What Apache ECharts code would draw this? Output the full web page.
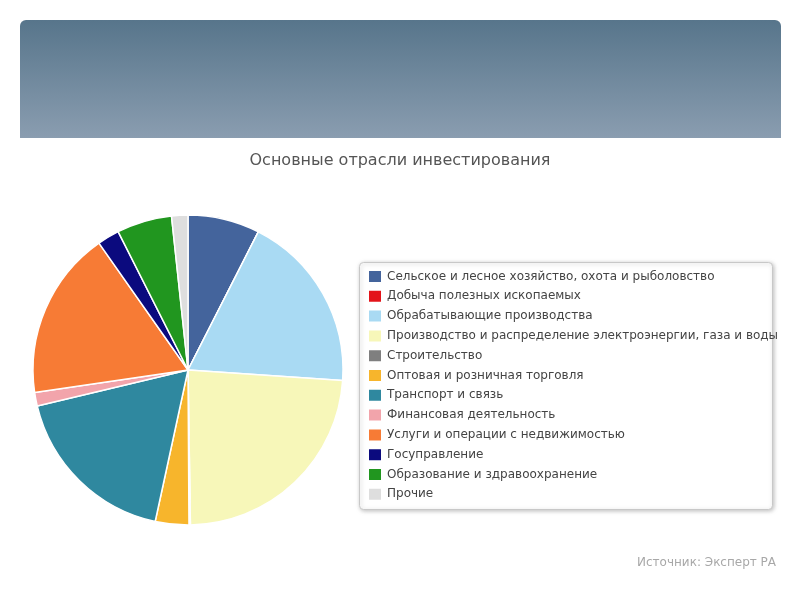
<!DOCTYPE html>
<html><head><meta charset="utf-8">
<script src="https://cdn.jsdelivr.net/npm/echarts@6/dist/echarts.min.js"></script>
<style>html,body{margin:0;padding:0;background:#fff}#c{width:800px;height:600px}</style>
</head><body><div id="c"></div>
<script>
const categories = [
  "Сельское и лесное хозяйство, охота и рыболовство",
  "Добыча полезных ископаемых",
  "Обрабатывающие производства",
  "Производство и распределение электроэнергии, газа и воды",
  "Строительство",
  "Оптовая и розничная торговля",
  "Транспорт и связь",
  "Финансовая деятельность",
  "Услуги и операции с недвижимостью",
  "Госуправление",
  "Образование и здравоохранение",
  "Прочие"
];
const values = [7.5, 0, 18.6, 23.7, 0.15, 3.5, 17.9, 1.4, 17.6, 2.3, 5.75, 1.7];
const colors = ["#44649c", "#e3141a", "#a9daf3", "#f7f7b9", "#7f7f7f", "#f7b52c", "#2f889f", "#f2a4ab", "#f77b35", "#0b0a7e", "#21961f", "#dedede"];
const titleText = "Основные отрасли инвестирования";
const sourceText = "Источник: Эксперт РА";

const chart = echarts.init(document.getElementById('c'));
chart.setOption({
  animation: false,
  color: colors,
  title: {
    text: titleText, left: 'center', top: 148,
    textStyle: { fontFamily: 'DejaVu Sans', fontSize: 16, fontWeight: 'normal', color: '#555' }
  },
  graphic: [
    { type: 'rect', shape: { x: 20, y: 20, width: 761, height: 118, r: [6, 6, 0, 0] },
      style: { fill: new echarts.graphic.LinearGradient(0, 0, 0, 1, [
        { offset: 0, color: '#57758b' }, { offset: 1, color: '#8a9db0' }]) }, z: 0 },
    { type: 'rect', shape: { x: 359.5, y: 262.5, width: 413, height: 247, r: 4 },
      style: { fill: '#fff', stroke: '#c8c8c8', lineWidth: 1, shadowBlur: 4, shadowColor: 'rgba(0,0,0,0.25)', shadowOffsetX: 1, shadowOffsetY: 1 }, z: 0 },
    { type: 'text', left: 637, top: 557, z: 5,
      style: { text: sourceText, fontFamily: 'DejaVu Sans', fontSize: 12, fill: '#a8a8a8' } }
  ],
  legend: {
    orient: 'vertical', left: 361, top: 264, padding: [5, 6],
    itemWidth: 14, itemHeight: 13, itemGap: 4.8,
    icon: 'rect',
    textStyle: { fontFamily: 'DejaVu Sans', fontSize: 12, color: '#444', padding: [0, 0, 0, 0] },
    data: categories, z: 4
  },
  series: [{
    type: 'pie', center: [188, 370], radius: 155, startAngle: 90, clockwise: true,
    label: { show: false }, labelLine: { show: false },
    itemStyle: { borderColor: '#fff', borderWidth: 1.5 },
    data: categories.map((n, i) => ({ name: n, value: values[i] }))
  }]
});
</script></body></html>
